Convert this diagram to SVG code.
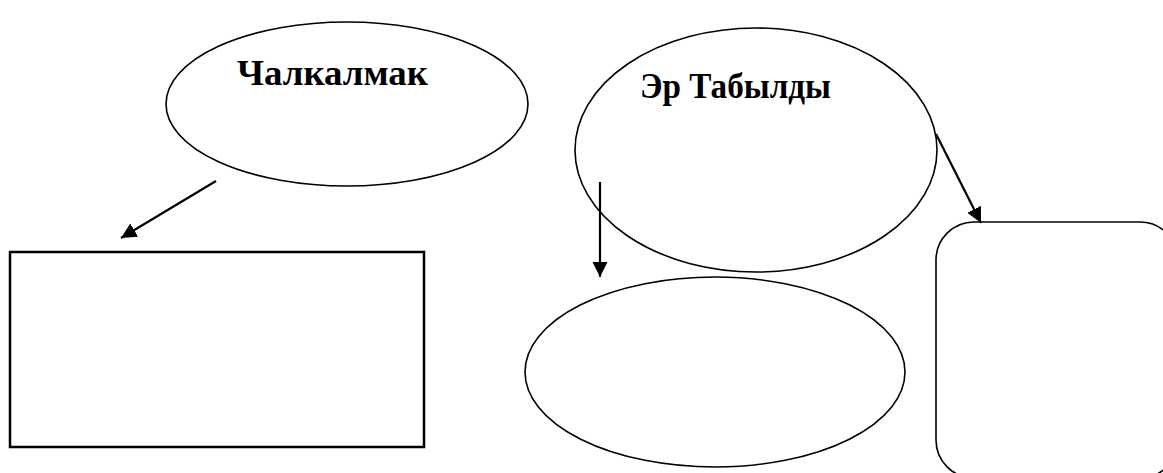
<svg xmlns="http://www.w3.org/2000/svg" width="1163" height="473" viewBox="0 0 1163 473">
<style>
.shape{fill:#fff;stroke:#000;stroke-width:1.6}
.box{fill:#fff;stroke:#000;stroke-width:2.5}
.conn{stroke:#000;stroke-width:2.2;fill:none}
.lbl{font-family:"Liberation Serif","Times New Roman",serif;font-weight:bold;font-size:36px;fill:#000}
</style>
<defs>
<marker id="ah" viewBox="0 0 10 10" refX="10" refY="5" markerWidth="7" markerHeight="7" markerUnits="strokeWidth" orient="auto">
<path d="M0,0 L10,5 L0,10 z" fill="#000"/>
</marker>
</defs>
<rect width="1163" height="473" fill="#fff"/>
<g id="node-chalkalmak">
<ellipse class="shape" cx="347" cy="104" rx="181" ry="82"/>
<text class="lbl" x="237" y="85" textLength="191" lengthAdjust="spacingAndGlyphs">Чалкалмак</text>
</g>
<g id="node-er-tabyldy">
<ellipse class="shape" cx="756" cy="150" rx="181" ry="122"/>
<text class="lbl" x="640" y="98" textLength="191" lengthAdjust="spacingAndGlyphs">Эр Табылды</text>
</g>
<g id="node-rect">
<rect class="box" x="10" y="252" width="414" height="195"/>
</g>
<g id="node-ellipse-bottom">
<ellipse class="shape" cx="715" cy="372" rx="190" ry="95"/>
</g>
<g id="node-rounded">
<rect class="shape" x="936" y="222" width="242" height="256" rx="38" ry="38"/>
</g>
<g id="connectors">
<line class="conn" x1="216" y1="181" x2="121" y2="238" marker-end="url(#ah)"/>
<line class="conn" x1="600" y1="182" x2="600" y2="277" marker-end="url(#ah)"/>
<line class="conn" x1="936" y1="134" x2="981" y2="223" marker-end="url(#ah)"/>
</g>
</svg>
